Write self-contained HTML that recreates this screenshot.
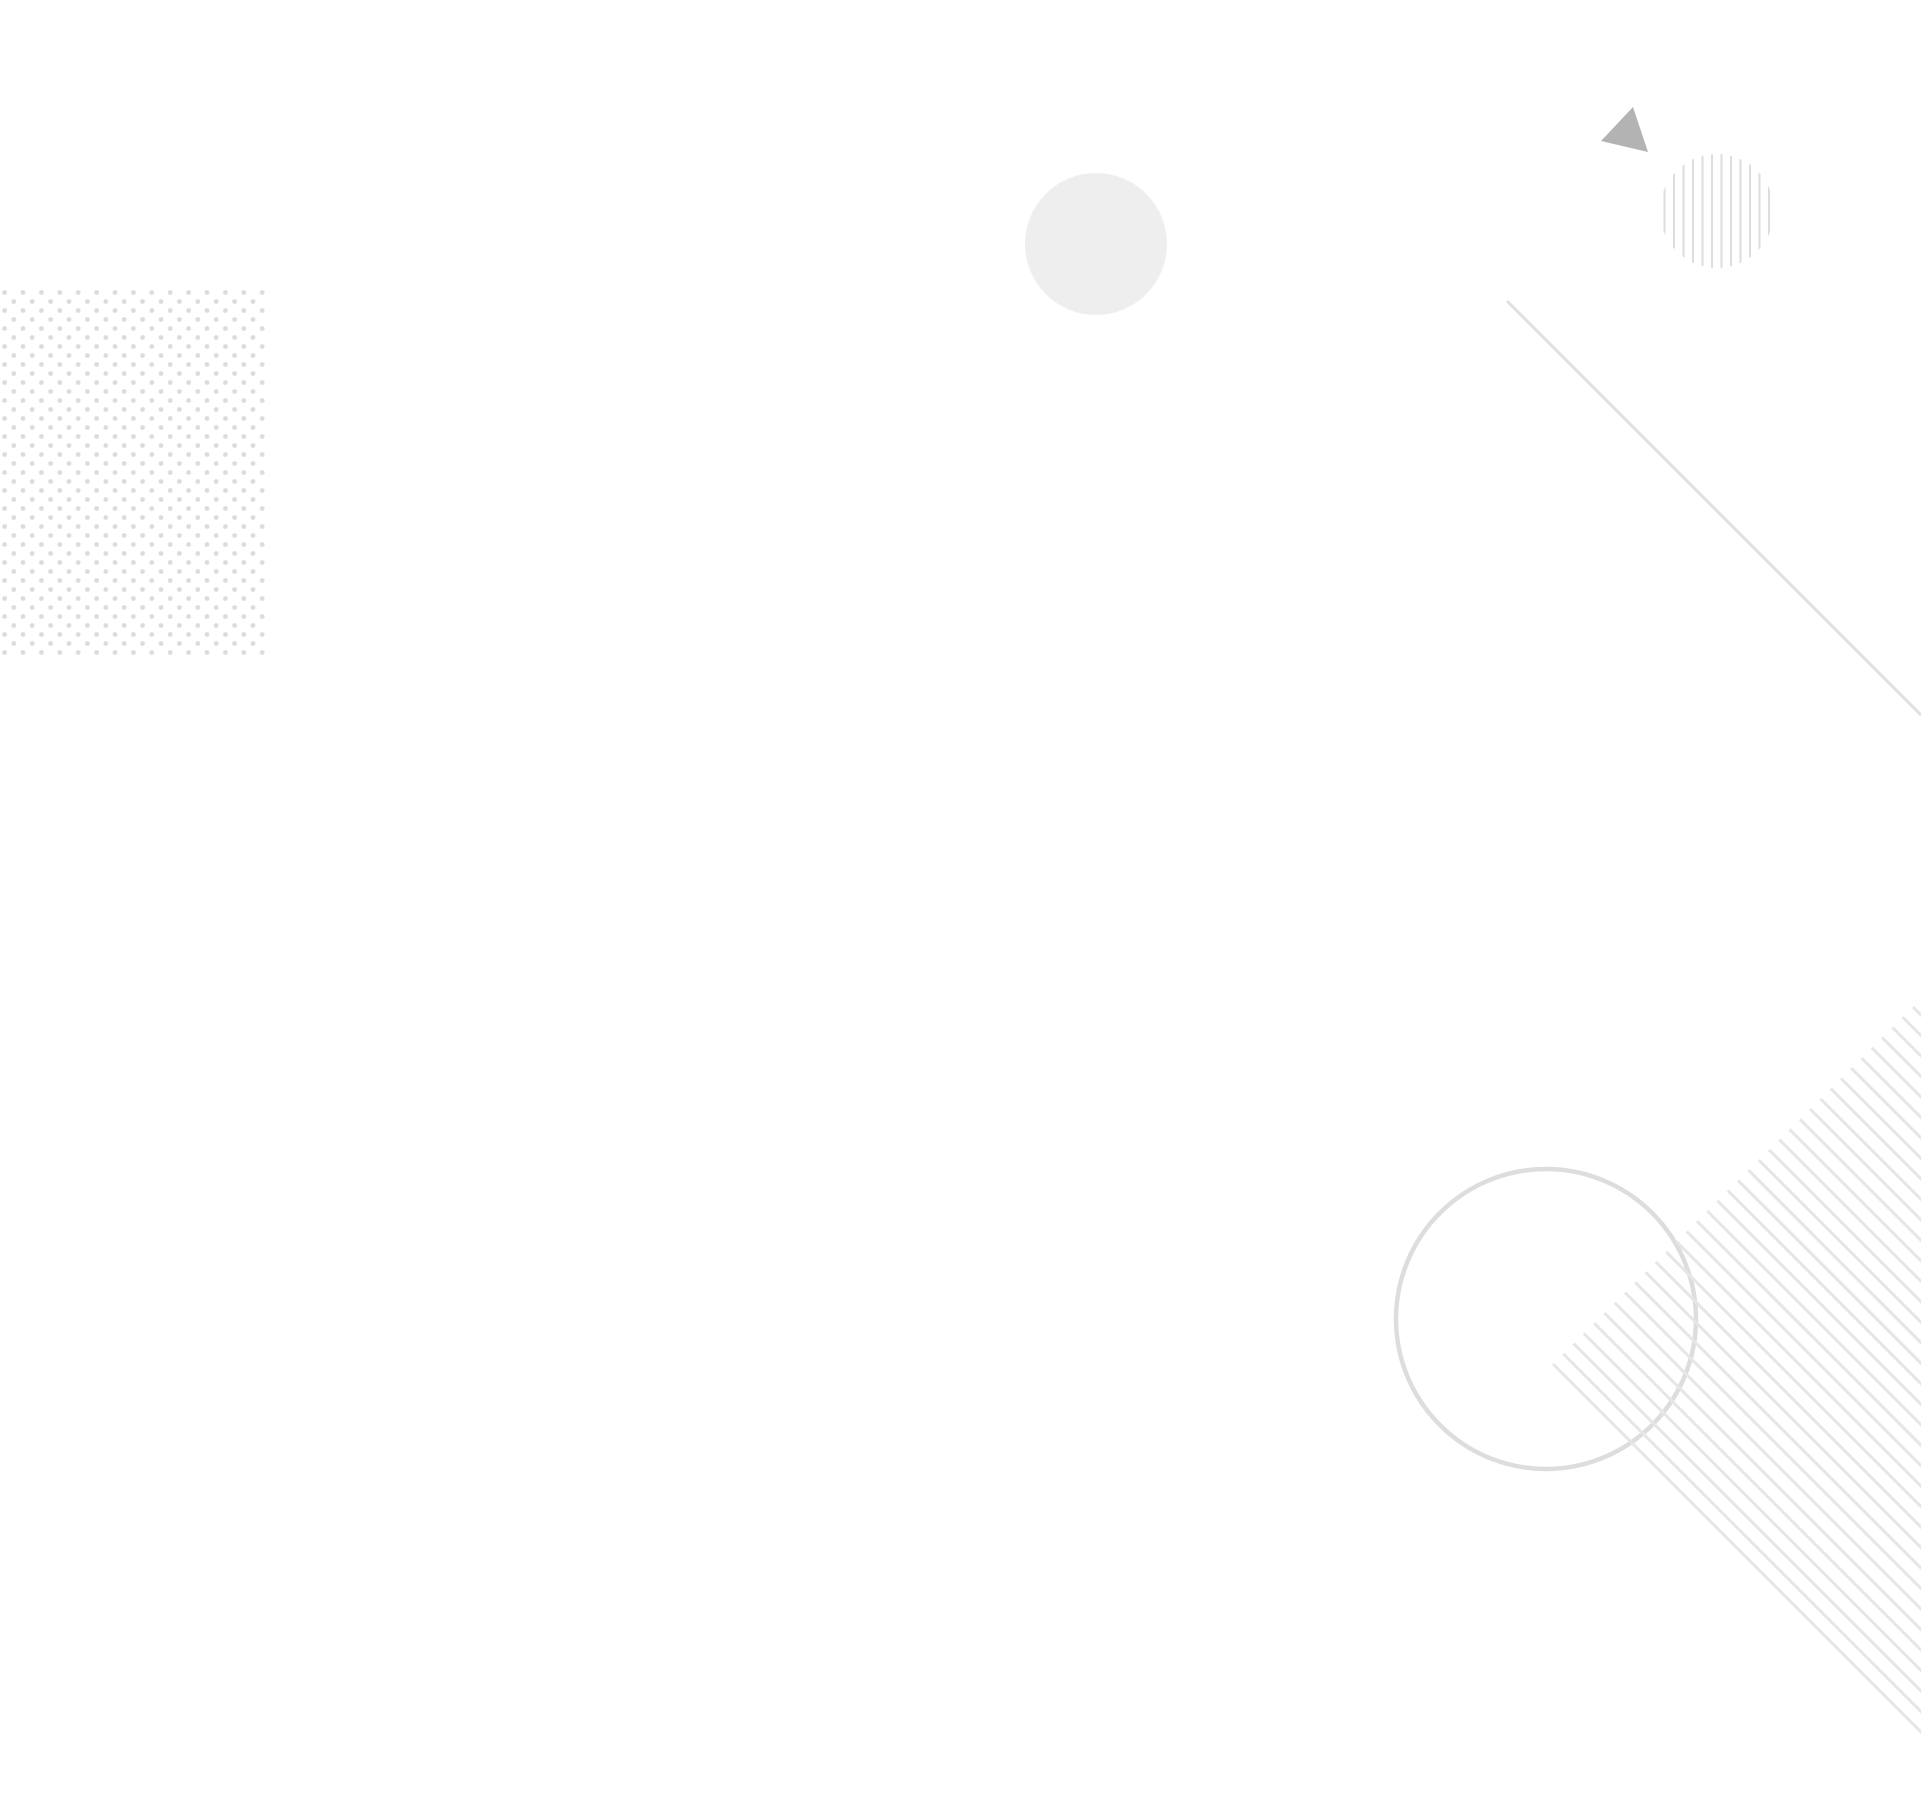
<!DOCTYPE html>
<html><head><style>html,body{margin:0;padding:0;background:#fff;}svg{display:block}</style></head>
<body>
<svg width="1921" height="1801" viewBox="0 0 1921 1801" xmlns="http://www.w3.org/2000/svg">
<defs>
<pattern id="dots" width="18.4" height="18" patternUnits="userSpaceOnUse">
<circle cx="4.6" cy="4.5" r="2.4" fill="#dcdcdc"/>
<circle cx="13.8" cy="13.5" r="2.4" fill="#dcdcdc"/>
</pattern>
<pattern id="vs" x="1660" width="9.5" height="20" patternUnits="userSpaceOnUse">
<rect x="3.5" y="0" width="2" height="20" fill="#dddddd"/>
</pattern>
<clipPath id="cp"><rect x="0" y="0" width="1921" height="1801"/></clipPath>
</defs>
<rect x="0" y="288" width="266" height="367" fill="url(#dots)"/>
<circle cx="1096" cy="244" r="71" fill="#eeeeee"/>
<polygon points="1633,107 1601,141 1648,152" fill="#b3b3b3"/>
<circle cx="1717" cy="211" r="57" fill="url(#vs)"/>
<line x1="1507" y1="301" x2="1921" y2="715" stroke="#e0e0e0" stroke-width="3"/>
<circle cx="1546" cy="1319" r="150" fill="none" stroke="#dddddd" stroke-width="4.5"/>
<g stroke="#e6e6e6" stroke-width="3" clip-path="url(#cp)" id="hatch"></g>
</svg>
<script>
var g=document.getElementById('hatch');
var n=36,x0=1553,y0=1364,x1=1913,y1=1007;
for(var i=0;i<n;i++){var t=i/(n-1);var sx=x0+(x1-x0)*t,sy=y0+(y1-y0)*t;
var l=document.createElementNS('http://www.w3.org/2000/svg','line');
l.setAttribute('x1',sx);l.setAttribute('y1',sy);l.setAttribute('x2',sx+500);l.setAttribute('y2',sy+500);g.appendChild(l);}
</script>
</body></html>
